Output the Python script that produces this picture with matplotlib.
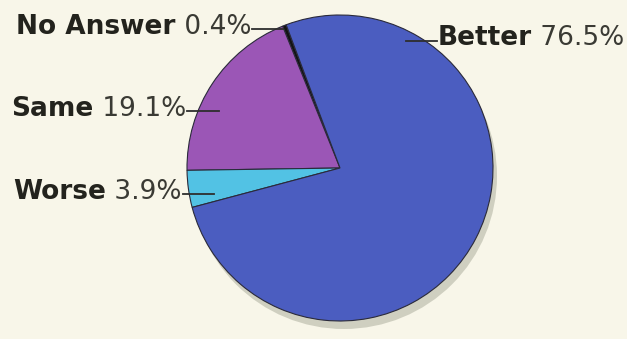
import matplotlib
matplotlib.use("Agg")
import matplotlib.pyplot as plt
from matplotlib.patches import Circle

# Survey responses
categories = ["No Answer", "Same", "Worse", "Better"]
values = [0.4, 19.1, 3.9, 76.5]
colors = ["#141414", "#9b56b6", "#52c2e4", "#4b5dc0"]

W, H = 627, 339
fig = plt.figure(figsize=(W / 100, H / 100), dpi=100)
fig.patch.set_facecolor("#f8f6e9")
ax = fig.add_axes([0, 0, 1, 1])

cx, cy, r = 340, 171, 153

# drop shadow under the pie
ax.add_patch(Circle((cx + 4, cy - 8), r, facecolor="#cfcfc0", edgecolor="none", zorder=1))

wedges, _ = ax.pie(values, colors=colors, startangle=110.6, counterclock=True,
                   center=(cx, cy), radius=r, normalize=True, frame=True,
                   wedgeprops=dict(edgecolor="#2a2a3a", linewidth=0.8))
for w in wedges:
    w.set_zorder(2)
ax.set_xlim(0, W)
ax.set_ylim(0, H)
ax.set_aspect("equal")
ax.axis("off")

fig.canvas.draw()
renderer = fig.canvas.get_renderer()

fs = 19
name_kw = dict(fontsize=fs, fontweight="bold", color="#23231d", family="DejaVu Sans", va="center")
num_kw = dict(fontsize=fs, fontweight="normal", color="#3a3a34", family="DejaVu Sans", va="center")

def width_of(t):
    return t.get_window_extent(renderer).width

def label(idx, x, y, side, line_len):
    name = categories[idx]
    num = f" {values[idx]}%"
    t1 = ax.text(x, y, name, **name_kw)
    t2 = ax.text(x, y, num, **num_kw)
    w1, w2 = width_of(t1), width_of(t2)
    if side == "left":
        # text block ends at x, leader line runs right into the pie
        t1.set_x(x - w1 - w2)
        t2.set_x(x - w2)
        ax.plot([x + 1, x + 1 + line_len], [y - 2, y - 2], color="#2e2e2e", lw=1.3, zorder=3)
    else:
        t1.set_x(x)
        t2.set_x(x + w1)
        ax.plot([x - 1 - line_len, x - 1], [y - 3, y - 3], color="#2e2e2e", lw=1.3, zorder=3)

label(0, 251, H - 27, "left", 31)
label(1, 186, H - 109, "left", 32)
label(2, 182, H - 192, "left", 31)
label(3, 438, H - 38, "right", 31)

fig.savefig("out.png", dpi=100, facecolor=fig.get_facecolor())
